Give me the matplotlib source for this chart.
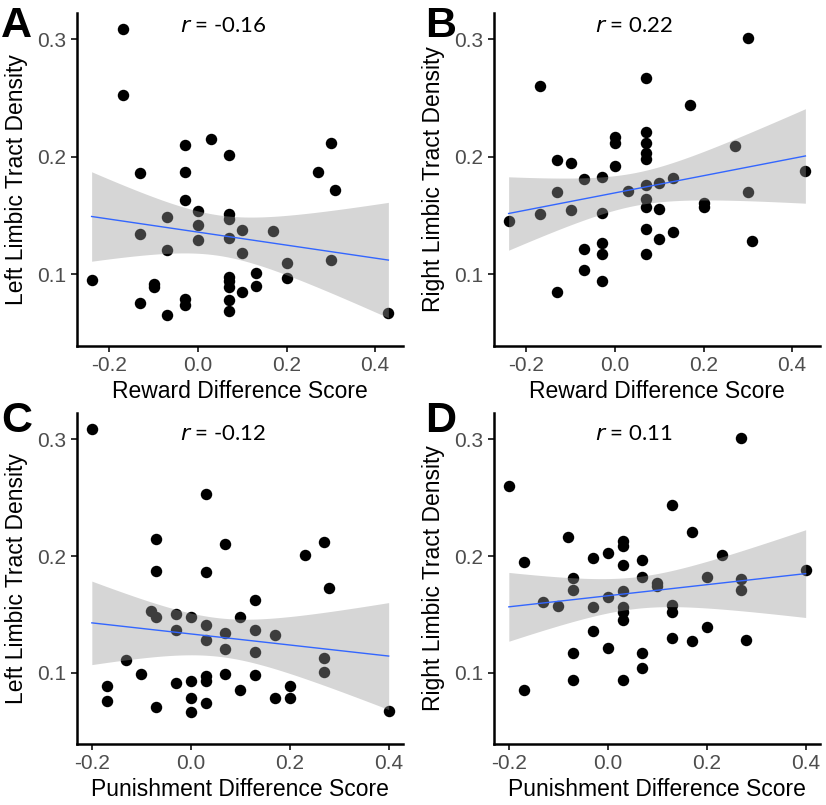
import matplotlib
matplotlib.use("Agg")
import matplotlib.pyplot as plt
import numpy as np

plt.rcParams['font.family'] = ['Liberation Sans', 'DejaVu Sans']

# Panel A: reward difference vs left limbic tract density
a_x = [-0.24, -0.17, -0.17, -0.13, -0.13, -0.13, -0.10, -0.10, -0.07, -0.07, -0.07,
       -0.03, -0.03, -0.03, -0.03, -0.03, 0.0, 0.0, 0.0, 0.03, 0.07, 0.07, 0.07, 0.07,
       0.07, 0.07, 0.07, 0.07, 0.07, 0.10, 0.10, 0.10, 0.13, 0.13, 0.17, 0.20, 0.20,
       0.27, 0.30, 0.30, 0.31, 0.43]
a_y = [0.095, 0.309, 0.253, 0.186, 0.134, 0.076, 0.092, 0.089, 0.149, 0.121, 0.065,
       0.210, 0.187, 0.163, 0.079, 0.074, 0.154, 0.142, 0.129, 0.215, 0.202, 0.151, 0.147, 0.131,
       0.098, 0.094, 0.089, 0.078, 0.069, 0.138, 0.118, 0.085, 0.101, 0.090, 0.137, 0.110, 0.097,
       0.187, 0.212, 0.112, 0.172, 0.067]

# Panel B: reward difference vs right limbic tract density
b_x = [-0.24, -0.17, -0.17, -0.13, -0.13, -0.13, -0.10, -0.10, -0.07, -0.07, -0.07,
       -0.03, -0.03, -0.03, -0.03, -0.03, 0.0, 0.0, 0.0, 0.03, 0.07, 0.07, 0.07, 0.07,
       0.07, 0.07, 0.07, 0.07, 0.07, 0.07, 0.10, 0.10, 0.10, 0.13, 0.13, 0.17, 0.20, 0.20,
       0.27, 0.30, 0.30, 0.31, 0.43]
b_y = [0.145, 0.260, 0.151, 0.197, 0.170, 0.085, 0.195, 0.155, 0.181, 0.122, 0.104,
       0.183, 0.152, 0.127, 0.117, 0.094, 0.217, 0.212, 0.192, 0.171, 0.267, 0.221, 0.212, 0.203,
       0.198, 0.176, 0.164, 0.157, 0.139, 0.117, 0.178, 0.156, 0.130, 0.182, 0.136, 0.244, 0.161, 0.157,
       0.209, 0.301, 0.170, 0.128, 0.188]

# Panel C: punishment difference vs left limbic tract density
c_x = [-0.20, -0.17, -0.17, -0.13, -0.10, -0.08, -0.07, -0.07, -0.07, -0.07, -0.03, -0.03,
       -0.03, 0.0, 0.0, 0.0, 0.0, 0.03, 0.03, 0.03, 0.03, 0.03, 0.03, 0.03, 0.07, 0.07,
       0.07, 0.07, 0.10, 0.10, 0.13, 0.13, 0.13, 0.13, 0.17, 0.17, 0.20, 0.20, 0.23, 0.27,
       0.27, 0.27, 0.28, 0.40]
c_y = [0.309, 0.089, 0.076, 0.111, 0.099, 0.153, 0.215, 0.187, 0.148, 0.071, 0.150, 0.137,
       0.091, 0.148, 0.093, 0.078, 0.066, 0.253, 0.186, 0.141, 0.128, 0.097, 0.093, 0.074, 0.210, 0.134,
       0.120, 0.099, 0.148, 0.085, 0.162, 0.137, 0.118, 0.098, 0.132, 0.078, 0.089, 0.078, 0.201, 0.212,
       0.113, 0.101, 0.173, 0.067]

# Panel D: punishment difference vs right limbic tract density
d_x = [-0.20, -0.17, -0.17, -0.13, -0.10, -0.08, -0.07, -0.07, -0.07, -0.07, -0.03, -0.03,
       -0.03, 0.0, 0.0, 0.0, 0.03, 0.03, 0.03, 0.03, 0.03, 0.03, 0.03, 0.03, 0.07, 0.07,
       0.07, 0.07, 0.10, 0.10, 0.13, 0.13, 0.13, 0.13, 0.17, 0.17, 0.20, 0.20, 0.23, 0.27,
       0.27, 0.27, 0.28, 0.40]
d_y = [0.260, 0.195, 0.085, 0.161, 0.157, 0.216, 0.181, 0.171, 0.117, 0.094, 0.198, 0.156,
       0.136, 0.203, 0.165, 0.121, 0.213, 0.209, 0.192, 0.170, 0.156, 0.152, 0.145, 0.094, 0.197, 0.182,
       0.117, 0.104, 0.177, 0.174, 0.244, 0.158, 0.152, 0.130, 0.221, 0.127, 0.182, 0.139, 0.201, 0.301,
       0.180, 0.171, 0.128, 0.188]

r_labels = ['-0.16', '0.22', '-0.12', '0.11']
panel_letters = ['A', 'B', 'C', 'D']
y_titles = ['Left Limbic Tract Density', 'Right Limbic Tract Density',
            'Left Limbic Tract Density', 'Right Limbic Tract Density']
x_titles = ['Reward Difference Score', 'Reward Difference Score',
            'Punishment Difference Score', 'Punishment Difference Score']

W, H = 826, 805
fig = plt.figure(figsize=(W / 100, H / 100), dpi=100)


def add_axes_px(left, top, right, bottom):
    return fig.add_axes([left / W, 1 - bottom / H, (right - left) / W, (bottom - top) / H])


def draw_panel(ax, x, y, xlim, r_txt, r_pos, xlabel, ylabel):
    x = np.array(x)
    y = np.array(y)
    ax.scatter(x, y, s=68, color='black', linewidths=0, zorder=2)

    # linear fit with 95% confidence band (like geom_smooth(method='lm'))
    n = len(x)
    slope, intercept = np.polyfit(x, y, 1)
    xs = np.linspace(x.min(), x.max(), 100)
    fit = intercept + slope * xs
    resid = y - (intercept + slope * x)
    s = np.sqrt(np.sum(resid ** 2) / (n - 2))
    sxx = np.sum((x - x.mean()) ** 2)
    se = s * np.sqrt(1 / n + (xs - x.mean()) ** 2 / sxx)
    t_crit = 2.02
    ax.fill_between(xs, fit - t_crit * se, fit + t_crit * se, color='#999999',
                    alpha=0.4, linewidth=0, zorder=3)
    ax.plot(xs, fit, color='#3366FF', linewidth=1.0, zorder=4)

    ax.set_xlim(*xlim)
    ax.set_ylim(0.039, 0.3225)
    ax.set_xticks([-0.2, 0.0, 0.2, 0.4])
    ax.set_xticklabels(['-0.2', '0.0', '0.2', '0.4'])
    ax.set_yticks([0.1, 0.2, 0.3])
    ax.set_yticklabels(['0.1', '0.2', '0.3'])
    for side in ['top', 'right']:
        ax.spines[side].set_visible(False)
    for side in ['left', 'bottom']:
        ax.spines[side].set_linewidth(1.8)
    ax.tick_params(length=4, width=1.4, color='#333333', labelcolor='#4D4D4D',
                   labelsize=15, pad=3.5)
    ax.set_xlabel(xlabel, fontsize=16.5, labelpad=3)
    ax.set_ylabel(ylabel, fontsize=16.5, labelpad=7)
    ax.text(r_pos[0], r_pos[1], '$\\it{r}$ = ' + r_txt, transform=ax.transAxes,
            ha='center', va='center', fontsize=16, family=['Lato', 'DejaVu Sans'])


axA = add_axes_px(77, 13, 403, 346)
axB = add_axes_px(494, 13, 820, 346)
axC = add_axes_px(77, 413, 403, 744)
axD = add_axes_px(494, 413, 820, 744)

draw_panel(axA, a_x, a_y, (-0.273, 0.463), r_labels[0], (0.448, 0.962), x_titles[0], y_titles[0])
draw_panel(axB, b_x, b_y, (-0.273, 0.463), r_labels[1], (0.43, 0.962), x_titles[1], y_titles[1])
draw_panel(axC, c_x, c_y, (-0.23, 0.429), r_labels[2], (0.449, 0.938), x_titles[2], y_titles[2])
draw_panel(axD, d_x, d_y, (-0.23, 0.429), r_labels[3], (0.43, 0.938), x_titles[3], y_titles[3])

letter_pos = [(1, 6), (425, 6), (1, 401), (425, 401)]
for letter, (px, py) in zip(panel_letters, letter_pos):
    fig.text(px / W, 1 - py / H, letter, fontsize=31, fontweight='bold', va='top', ha='left')

fig.savefig('out.png', dpi=100)
